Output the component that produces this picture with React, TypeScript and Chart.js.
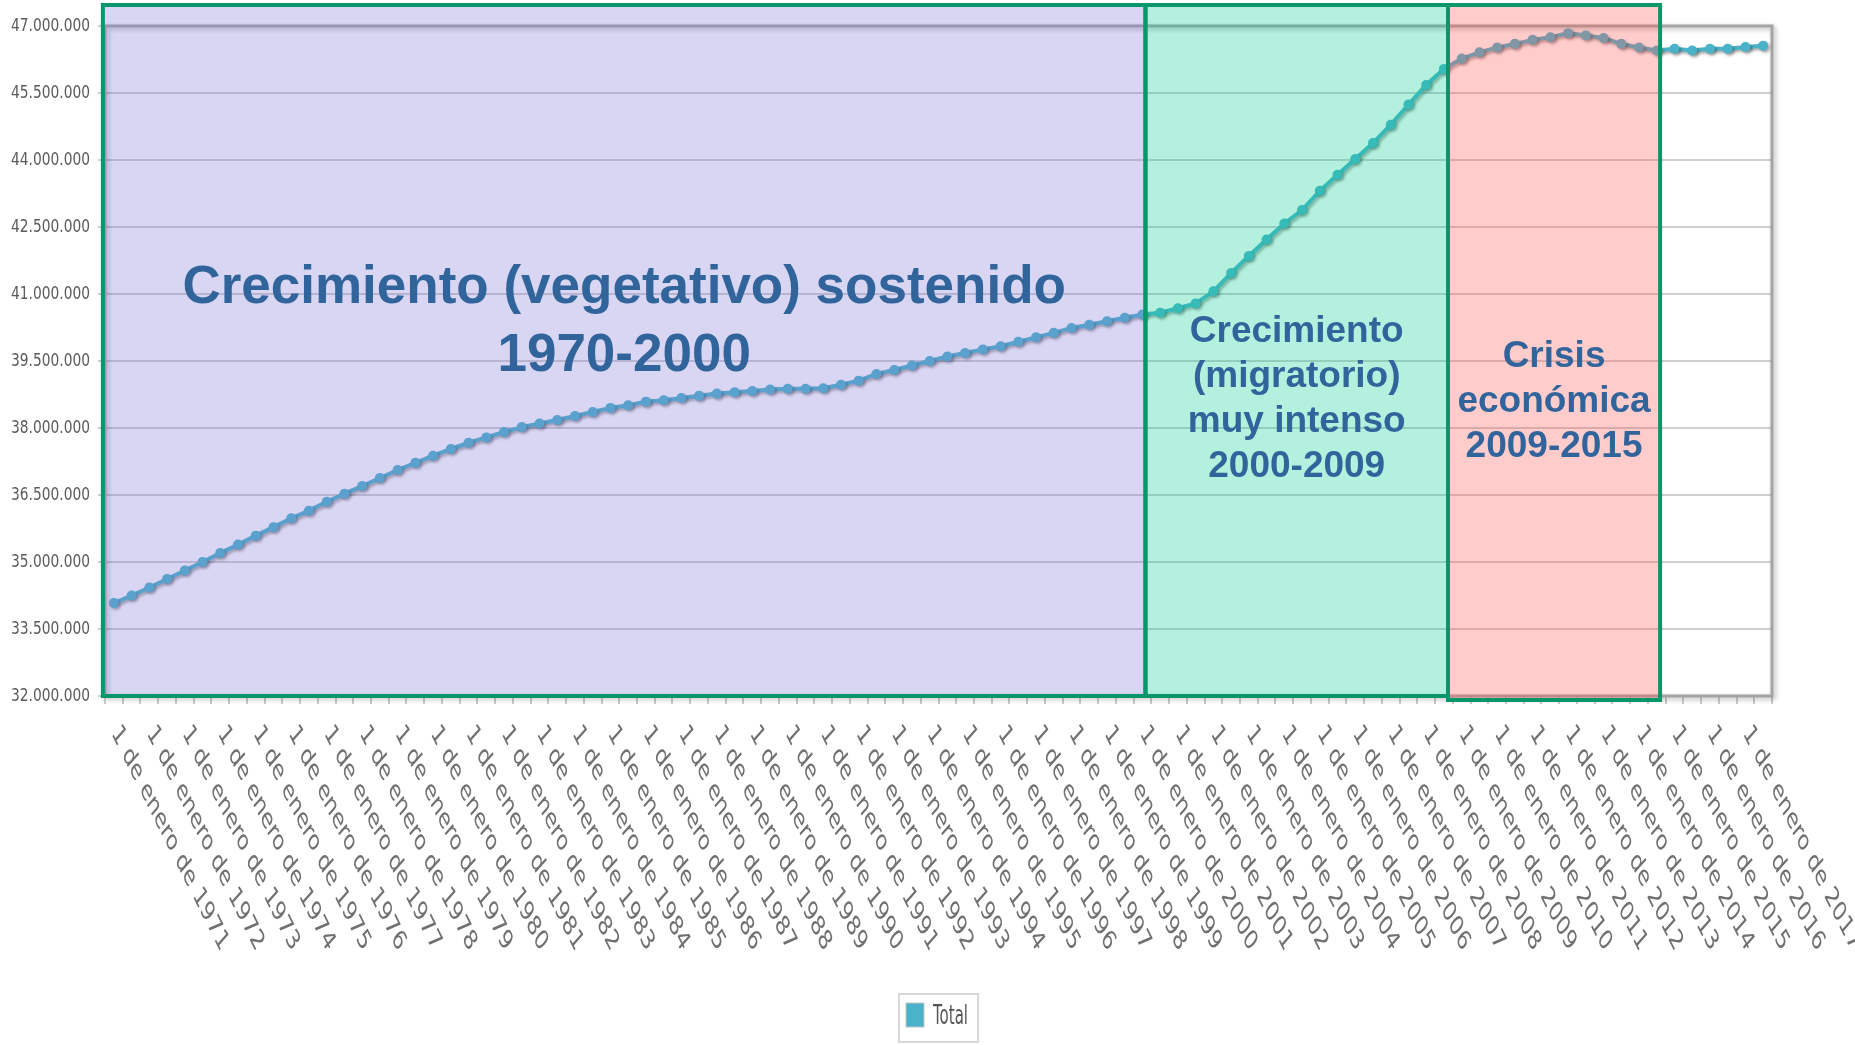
import React, { useEffect, useRef } from 'react';
import { Chart, registerables } from 'chart.js';

Chart.register(...registerables);

const W = 1855;
const H = 1045;

// Semi-annual categories: 1 de enero / 1 de julio, 1971 - 2017
const firstYear = 1971;
const lastYear = 2017;
const categories: string[] = [];
for (let y = firstYear; y <= lastYear; y++) {
  categories.push(`1 de enero de ${y}`);
  categories.push(`1 de julio de ${y}`);
}

const seriesLabel = 'Total';
const total = [
  34080000, 34250000, 34430000, 34620000, 34810000, 35000000, 35200000, 35390000, 35590000, 35780000,
  35980000, 36150000, 36350000, 36530000, 36700000, 36880000, 37060000, 37220000, 37380000, 37530000,
  37670000, 37790000, 37910000, 38020000, 38100000, 38180000, 38270000, 38360000, 38450000, 38510000,
  38590000, 38620000, 38670000, 38720000, 38770000, 38800000, 38830000, 38860000, 38880000, 38880000,
  38890000, 38970000, 39060000, 39210000, 39300000, 39400000, 39500000, 39600000, 39680000, 39760000,
  39830000, 39930000, 40030000, 40130000, 40240000, 40310000, 40390000, 40470000, 40540000, 40580000,
  40680000, 40790000, 41060000, 41470000, 41850000, 42220000, 42580000, 42880000, 43310000, 43670000,
  44020000, 44380000, 44790000, 45240000, 45680000, 46040000, 46270000, 46410000, 46520000, 46600000,
  46690000, 46750000, 46840000, 46790000, 46730000, 46600000, 46520000, 46450000, 46490000, 46450000,
  46490000, 46490000, 46530000, 46560000,
];

const yMin = 32000000;
const yMax = 47000000;
const yStep = 1500000;

// Highlighted periods (category positions)
const periodTexts = [
  ['Crecimiento (vegetativo) sostenido', '1970-2000'],
  ['Crecimiento', '(migratorio)', 'muy intenso', '2000-2009'],
  ['Crisis', 'económica', '2009-2015'],
];
const periodStart = [-0.62, 58.17, 75.23];
const periodEnd = [58.17, 75.23, 87.19];

const fmt = (v: number) => Math.round(v).toString().replace(/\B(?=(\d{3})+(?!\d))/g, '.');

const LINE = '#4bb3c9';
const GREEN = '#07976b';
const TEXT = '#31649b';

const periodFill = ['rgba(125,118,215,0.3)', 'rgba(5,205,145,0.3)', 'rgba(255,85,85,0.3)'];
const periodBottomExtra = [0, 0, 4];
const periodFont = ['bold 53px "Liberation Sans", Arial, sans-serif', 'bold 37px "Liberation Sans", Arial, sans-serif', 'bold 37px "Liberation Sans", Arial, sans-serif'];
const periodBaseline = [303, 342, 367];
const periodLineGap = [67.5, 45, 45];

const plugin = {
  id: 'decor',
  beforeDatasetsDraw(chart: any) {
    const { ctx, chartArea: a } = chart;
    ctx.save();
    ctx.shadowColor = 'rgba(0,0,0,0.3)';
    ctx.shadowBlur = 5;
    ctx.shadowOffsetX = 2;
    ctx.shadowOffsetY = 2;
    ctx.strokeStyle = '#a4a4a4';
    ctx.lineWidth = 3;
    ctx.strokeRect(a.left, a.top, a.right - a.left, a.bottom - a.top);
    ctx.restore();
  },
  beforeDatasetDraw(chart: any) {
    const ctx = chart.ctx;
    ctx.save();
    ctx.shadowColor = 'rgba(0,0,0,0.35)';
    ctx.shadowBlur = 3;
    ctx.shadowOffsetX = 2;
    ctx.shadowOffsetY = 2;
  },
  afterDatasetDraw(chart: any) {
    chart.ctx.restore();
  },
  afterDatasetsDraw(chart: any) {
    const { ctx, chartArea: a } = chart;
    const xs = chart.scales.x;
    const top = a.top - 21;
    for (let i = 0; i < periodTexts.length; i++) {
      const x1 = xs.getPixelForValue(periodStart[i]);
      const x2 = xs.getPixelForValue(periodEnd[i]);
      const y2 = a.bottom + periodBottomExtra[i];
      ctx.save();
      ctx.fillStyle = periodFill[i];
      ctx.fillRect(x1, top, x2 - x1, y2 - top);
      ctx.restore();
    }
    for (let i = 0; i < periodTexts.length; i++) {
      const x1 = xs.getPixelForValue(periodStart[i]);
      const x2 = xs.getPixelForValue(periodEnd[i]);
      const y2 = a.bottom + periodBottomExtra[i];
      ctx.save();
      ctx.strokeStyle = GREEN;
      ctx.lineWidth = 4;
      ctx.strokeRect(x1, top, x2 - x1, y2 - top);
      ctx.restore();
    }
    for (let i = 0; i < periodTexts.length; i++) {
      const x1 = xs.getPixelForValue(periodStart[i]);
      const x2 = xs.getPixelForValue(periodEnd[i]);
      const cx = (x1 + x2) / 2;
      ctx.save();
      ctx.fillStyle = TEXT;
      ctx.font = periodFont[i];
      ctx.textAlign = 'center';
      ctx.textBaseline = 'alphabetic';
      periodTexts[i].forEach((t, k) => {
        ctx.fillText(t, cx, periodBaseline[i] + k * periodLineGap[i]);
      });
      ctx.restore();
    }
  },
  afterDraw(chart: any) {
    const { ctx, chartArea: a } = chart;
    const xs = chart.scales.x;
    const ys = chart.scales.y;
    // y labels
    ys.ticks.forEach((t: any) => {
      const y = ys.getPixelForValue(t.value);
      ctx.save();
      ctx.translate(a.left - 15, y);
      ctx.scale(1, 1.3);
      ctx.font = '13.8px "DejaVu Sans", sans-serif';
      ctx.fillStyle = '#5a5a5a';
      ctx.textAlign = 'right';
      ctx.textBaseline = 'middle';
      ctx.fillText(fmt(t.value), 0, 0);
      ctx.restore();
    });
    // x labels (every January)
    const ang = (53.1 * Math.PI) / 180;
    categories.forEach((c, i) => {
      if (i % 2 !== 0) return;
      const x = xs.getPixelForValue(i);
      ctx.save();
      ctx.translate(x + 1, a.bottom + 33);
      ctx.scale(1, 1.5);
      ctx.rotate(ang);
      ctx.font = '18.6px "DejaVu Sans", sans-serif';
      ctx.fillStyle = '#707070';
      ctx.textAlign = 'left';
      ctx.textBaseline = 'middle';
      ctx.fillText(c, 0, 0);
      ctx.restore();
    });
    // legend
    const ds = chart.data.datasets[0];
    const lx = 899, ly = 994, lw = 79, lh = 48;
    ctx.save();
    ctx.strokeStyle = '#d8d8d8';
    ctx.lineWidth = 2;
    ctx.strokeRect(lx, ly, lw, lh);
    ctx.fillStyle = ds.borderColor;
    ctx.fillRect(lx + 7, ly + 9, 18, 24);
    ctx.strokeStyle = '#c4c4c4';
    ctx.lineWidth = 1;
    ctx.strokeRect(lx + 7, ly + 9, 18, 24);
    ctx.translate(lx + 34, ly + 23);
    ctx.scale(1, 1.75);
    ctx.font = '15px "DejaVu Sans", sans-serif';
    ctx.fillStyle = '#555';
    ctx.textAlign = 'left';
    ctx.textBaseline = 'middle';
    ctx.fillText(ds.label, 0, 0);
    ctx.restore();
  },
};

export default function App() {
  const ref = useRef<HTMLCanvasElement>(null);
  useEffect(() => {
    const chart = new Chart(ref.current as HTMLCanvasElement, {
      type: 'line',
      data: {
        labels: categories,
        datasets: [
          {
            label: seriesLabel,
            data: total,
            borderColor: LINE,
            backgroundColor: LINE,
            borderWidth: 4,
            pointRadius: 5,
            pointBackgroundColor: LINE,
            pointBorderWidth: 0,
            tension: 0,
            clip: false,
          },
        ],
      },
      options: {
        responsive: false,
        devicePixelRatio: 1,
        animation: false,
        layout: { padding: { left: 105, top: 26, right: 83, bottom: 349 } },
        plugins: { legend: { display: false }, tooltip: { enabled: false } },
        scales: {
          x: {
            type: 'category',
            offset: true,
            afterFit: (s: any) => { s.height = 0; },
            grid: { offset: true, drawOnChartArea: false, drawTicks: true, tickLength: 8, color: '#cbcbcb', lineWidth: 2 },
            border: { display: false },
            ticks: { display: false, autoSkip: false },
          },
          y: {
            min: yMin,
            max: yMax,
            afterFit: (s: any) => { s.width = 0; },
            ticks: { display: false, stepSize: yStep },
            grid: { color: '#cfcfcf', lineWidth: 2, drawTicks: true, tickLength: 7 },
            border: { display: false },
          },
        },
      },
      plugins: [plugin],
    } as any);
    return () => chart.destroy();
  }, []);
  return (
    <div style={{ position: 'fixed', left: 0, top: 0, width: W, height: H, background: '#fff' }}>
      <canvas ref={ref} width={W} height={H} style={{ display: 'block', width: W, height: H }} />
    </div>
  );
}
